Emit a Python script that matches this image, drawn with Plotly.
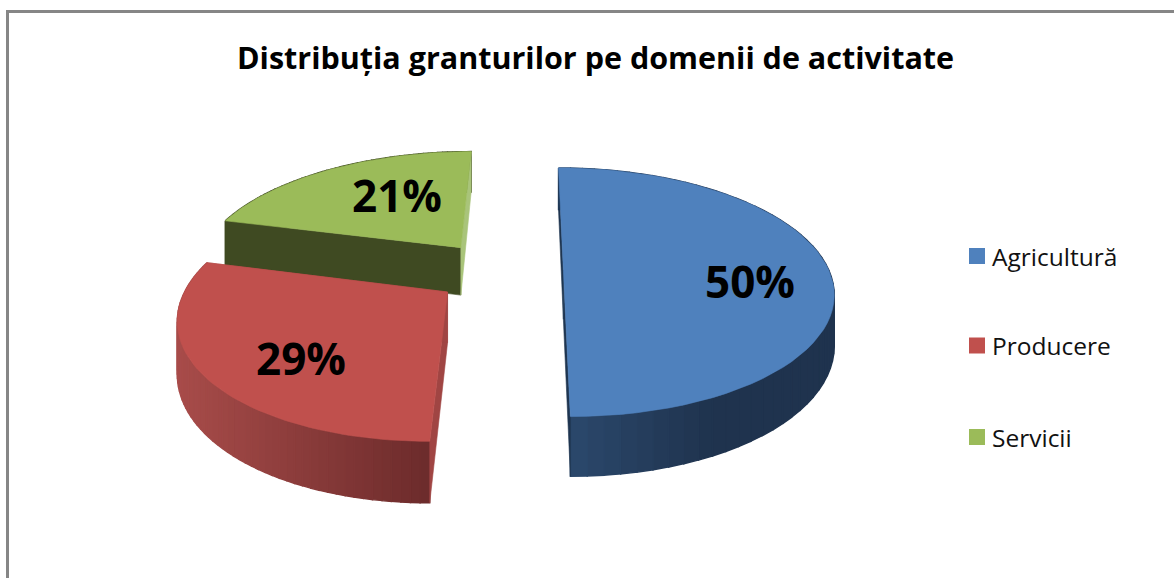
import math
import plotly.graph_objects as go

# Data
categories = ["Agricultură", "Producere", "Servicii"]
values = [50, 29, 21]
top_colors = ["#4F81BD", "#C0504D", "#9BBB59"]
first_face_colors = ["#1F3550", "#A04543", "#3F4A22"]
last_face_colors = ["#1F3550", "#A04543", "#A9C47A"]
side_start = ["#2C4A6E", "#A84C4A", "#3F4A22"]
side_end = ["#1F334E", "#6C2B2B", "#3F4A22"]
title_text = "Distribuția granturilor pe domenii de activitate"

# Projection of the tilted pie plane on to the page (page pixels are the axis units)
VX, YC, A, B, K = 531.0, 269.0, 265.0, 120.0, 0.177
CX, CY, EXPLODE, DEPTH = -0.123, -0.01, 0.245, 49.0
SCALE = [1.0, 0.96, 1.0]
SHIFT_X = [0.0, 0.012, 0.0]
SHIFT_Y = [0.0, -0.025, 0.0]


def hex2rgb(h):
    return [int(h[i:i + 2], 16) for i in (1, 3, 5)]


def mix(c1, c2, t):
    a, b = hex2rgb(c1), hex2rgb(c2)
    return "rgb(%d,%d,%d)" % tuple(round(a[i] + (b[i] - a[i]) * t) for i in range(3))


def project(X, Y):
    w = 1 + K * Y
    return VX + A * X / w, YC - B * Y / w, DEPTH / w


def poly(xs, ys, color, width=0.6):
    return go.Scatter(x=xs + xs[:1], y=ys + ys[:1], mode="lines", fill="toself",
                      fillcolor=color, line=dict(color=color, width=width),
                      hoverinfo="skip", showlegend=False)


fig = go.Figure()
total = sum(values)
starts, c = [], 0.0
for v in values:
    starts.append(c)
    c += v / total * 2 * math.pi

wedges = []
for i, v in enumerate(values):
    a0 = starts[i]
    a1 = a0 + v / total * 2 * math.pi
    mid = (a0 + a1) / 2
    ax = CX + EXPLODE * math.sin(mid) + SHIFT_X[i]
    ay = CY + EXPLODE * math.cos(mid) + SHIFT_Y[i]
    n = 60
    rim = []
    for j in range(n + 1):
        t = a0 + (a1 - a0) * j / n
        rim.append(project(ax + SCALE[i] * math.sin(t), ay + SCALE[i] * math.cos(t)))
    wedges.append((project(ax, ay), rim))

# back to front: Servicii, Producere, Agricultură
for i in (2, 1, 0):
    apex, rim = wedges[i]
    # curved face with a stepped horizontal shading
    xmin = min(p[0] for p in rim)
    xmax = max(p[0] for p in rim)
    for j in range(len(rim) - 1):
        p, q = rim[j], rim[j + 1]
        t = ((p[0] + q[0]) / 2 - xmin) / (xmax - xmin)
        if i == 0:
            t = min(1.0, t / 0.55)
        col = mix(side_start[i], side_end[i], t)
        fig.add_trace(poly([p[0], q[0], q[0], p[0]],
                           [p[1], q[1], q[1] + q[2], p[1] + p[2]], col, width=1.4))
    # flat radial faces
    for p, col in ((rim[0], first_face_colors[i]), (rim[-1], last_face_colors[i])):
        fig.add_trace(poly([apex[0], p[0], p[0], apex[0]],
                           [apex[1], p[1], p[1] + p[2], apex[1] + apex[2]], col))
    # top face
    fig.add_trace(poly([apex[0]] + [p[0] for p in rim], [apex[1]] + [p[1] for p in rim], top_colors[i]))

# legend swatches and names
legend_y = [256, 345.5, 437]
fig.add_trace(go.Scatter(x=[977, 977, 977], y=legend_y, mode="markers", hoverinfo="skip", showlegend=False,
                         marker=dict(symbol="square", size=16, color=top_colors, line=dict(width=0))))
for name, ly in zip(categories, legend_y):
    fig.add_annotation(x=990, y=ly, xref="x", yref="y", xanchor="left", text=name, showarrow=False,
                       font=dict(family="Open Sans", size=24.5, color="#111111"))

# percentage labels
label_xy = [(750, 281), (301, 358), (397, 195)]
for v, (lx, ly) in zip(values, label_xy):
    fig.add_annotation(x=lx, y=ly, xref="x", yref="y", text="<b>%d%%</b>" % v, showarrow=False,
                       font=dict(family="Open Sans", size=44, color="#000000"))

fig.add_shape(type="line", x0=6, x1=1174, y0=11.5, y1=11.5, line=dict(color="#868686", width=3))
fig.add_shape(type="line", x0=7.5, x1=7.5, y0=10, y1=578, line=dict(color="#868686", width=3))

fig.add_annotation(x=595, y=57, xref="x", yref="y", text="<b>%s</b>" % title_text, showarrow=False,
                   font=dict(family="Open Sans", size=30.5, color="#000000"))

fig.update_layout(
    width=1174, height=578, margin=dict(l=0, r=0, t=0, b=0),
    paper_bgcolor="white", plot_bgcolor="white", showlegend=False,
    xaxis=dict(range=[0, 1174], visible=False, fixedrange=True),
    yaxis=dict(range=[578, 0], visible=False, fixedrange=True),
)
fig.write_html("out.html", config={"displayModeBar": False},
               post_script="document.body.style.margin='0';document.body.style.overflow='hidden';")
